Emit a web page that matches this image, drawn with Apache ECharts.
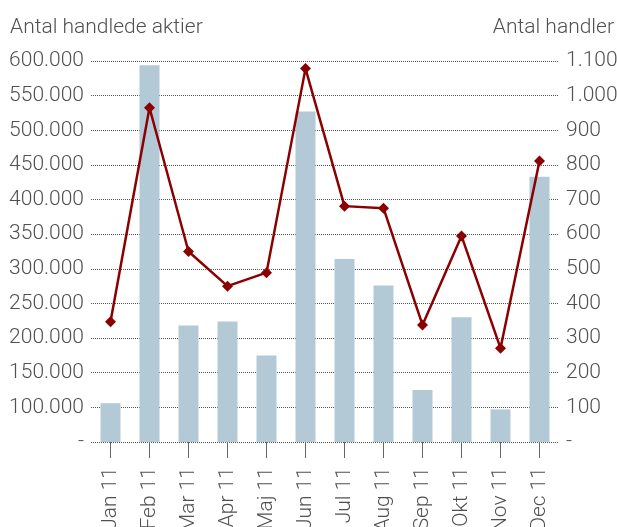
<!DOCTYPE html>
<html><head><meta charset="utf-8">
<script src="https://cdn.jsdelivr.net/npm/echarts@6/dist/echarts.min.js"></script>
<style>html,body{margin:0;padding:0;background:#fff}#c{width:617px;height:527px}</style>
</head><body><div id="c"></div>
<script>
var categories = ['Jan 11','Feb 11','Mar 11','Apr 11','Maj 11','Jun 11','Jul 11','Aug 11','Sep 11','Okt 11','Nov 11','Dec 11'];
var sharesTraded = [106000, 594000, 218000, 224000, 175000, 527000, 314000, 276000, 125000, 230000, 97000, 433000];
var tradesCount = [347, 965, 550, 450, 489, 1078, 681, 675, 338, 595, 271, 811];
var leftTitle = 'Antal handlede aktier';
var rightTitle = 'Antal handler';

function fmt(v){
  if (v === 0) return '-';
  return String(Math.round(v)).replace(/\B(?=(\d{3})+(?!\d))/g, '.');
}
var FONT = 'Roboto, "Liberation Sans", sans-serif';
var FW = 300;
var TXT = '#505050';
var chart = echarts.init(document.getElementById('c'));
chart.setOption({
  animation: false,
  title: [
    {text: leftTitle, left: 10, top: 17, padding: 0, textStyle: {fontFamily: FONT, fontSize: 21, fontWeight: FW, color: TXT}},
    {text: rightTitle, right: 3, top: 17, padding: 0, textStyle: {fontFamily: FONT, fontSize: 21, fontWeight: FW, color: TXT}}
  ],
  grid: {left: 91, right: 58, top: 61, bottom: 85, outerBoundsMode: 'none', containLabel: false},
  xAxis: {
    type: 'category', data: categories,
    axisLine: {show: false},
    axisTick: {show: true, alignWithLabel: true, length: 16, lineStyle: {color: '#666', width: 1}},
    axisLabel: {rotate: 90, margin: 25, fontFamily: FONT, fontSize: 21, fontWeight: FW, color: TXT}
  },
  yAxis: [
    {type: 'value', min: 50000, max: 600000, interval: 50000,
     axisLine: {show: false}, axisTick: {show: false},
     axisLabel: {margin: 7, fontFamily: FONT, fontSize: 21, fontWeight: FW, color: TXT,
       formatter: function(v){ return v === 50000 ? '-' : fmt(v); }},
     splitLine: {show: true, lineStyle: {type: 'dotted', color: '#555', width: 1}}},
    {type: 'value', min: 0, max: 1100, interval: 100,
     axisLine: {show: false}, axisTick: {show: false},
     axisLabel: {margin: 7, fontFamily: FONT, fontSize: 21, fontWeight: FW, color: TXT, formatter: fmt},
     splitLine: {show: false}}
  ],
  series: [
    {type: 'bar', yAxisIndex: 0, data: sharesTraded, barWidth: 20,
     itemStyle: {color: '#b4c9d6'}},
    {type: 'line', yAxisIndex: 1, data: tradesCount, symbol: 'diamond', symbolSize: 11,
     lineStyle: {color: '#8b0000', width: 2.5}, itemStyle: {color: '#8b0000'}}
  ]
});
</script></body></html>
